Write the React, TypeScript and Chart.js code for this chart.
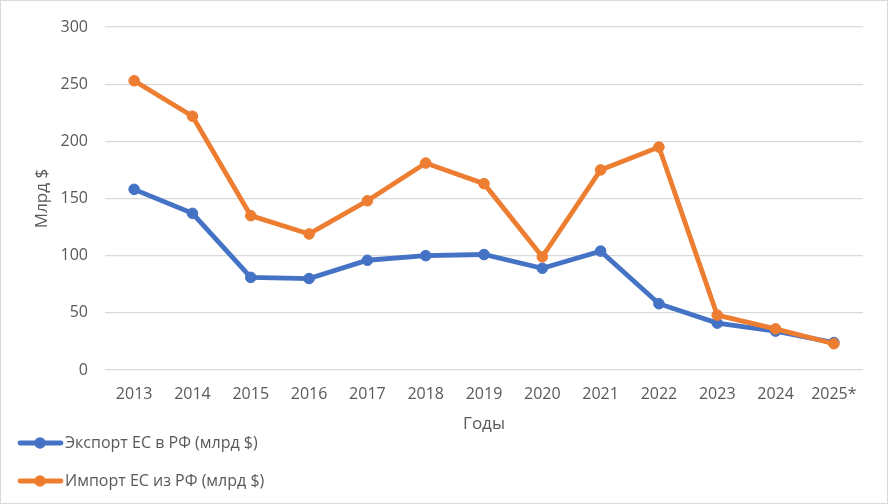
import React, { useEffect, useRef } from "react";
import { Chart, registerables } from "chart.js";

Chart.register(...registerables);

const years = ["2013", "2014", "2015", "2016", "2017", "2018", "2019", "2020", "2021", "2022", "2023", "2024", "2025*"];
const exportEU = [158, 137, 81, 80, 96, 100, 101, 89, 104, 58, 41, 34, 24];
const importEU = [253, 222, 135, 119, 148, 181, 163, 99, 175, 195, 48, 36, 23];
const seriesLabels = ["Экспорт ЕС в РФ (млрд $)", "Импорт ЕС из РФ (млрд $)"];
const axisTitles = { x: "Годы", y: "Млрд $" };
const yMin = 0;
const yMax = 300;
const yStep = 50;

const BLUE = "#4472C4";
const ORANGE = "#ED7D31";
const TEXT = "#595959";
const GRID = "#D9D9D9";
const FONT = "'Open Sans', 'DejaVu Sans', sans-serif";

const frameAndLegend = {
  id: "frameAndLegend",
  beforeDraw(chart: any) {
    const ctx = chart.ctx;
    ctx.save();
    ctx.fillStyle = "#ffffff";
    ctx.fillRect(0, 0, chart.width, chart.height);
    ctx.restore();
  },
  afterDraw(chart: any) {
    const ctx = chart.ctx;
    ctx.save();
    ctx.strokeStyle = GRID;
    ctx.lineWidth = 1;
    ctx.strokeRect(0.5, 0.5, chart.width - 1, chart.height - 1);
    const rows = [chart.height - 61, chart.height - 23];
    chart.data.datasets.forEach((ds: any, i: number) => {
      const y = rows[i];
      ctx.strokeStyle = ds.borderColor;
      ctx.lineWidth = 4.8;
      ctx.lineCap = "round";
      ctx.beginPath();
      ctx.moveTo(20, y);
      ctx.lineTo(61, y);
      ctx.stroke();
      ctx.fillStyle = ds.borderColor;
      ctx.beginPath();
      ctx.arc(40, y, 5.8, 0, Math.PI * 2);
      ctx.fill();
      ctx.fillStyle = TEXT;
      ctx.font = `16px ${FONT}`;
      ctx.textBaseline = "middle";
      ctx.textAlign = "left";
      ctx.fillText(ds.label, 65, y);
    });
    ctx.restore();
  },
};

export default function App() {
  const ref = useRef<HTMLCanvasElement>(null);
  useEffect(() => {
    if (!ref.current) return;
    const chart = new Chart(ref.current, {
      type: "line",
      data: {
        labels: years,
        datasets: [
          {
            label: seriesLabels[0],
            data: exportEU,
            borderColor: BLUE,
            backgroundColor: BLUE,
            pointBackgroundColor: BLUE,
            pointBorderColor: BLUE,
            borderWidth: 4.8,
            pointRadius: 5.3,
            pointBorderWidth: 1,
            tension: 0,
            order: 2,
          },
          {
            label: seriesLabels[1],
            data: importEU,
            borderColor: ORANGE,
            backgroundColor: ORANGE,
            pointBackgroundColor: ORANGE,
            pointBorderColor: ORANGE,
            borderWidth: 4.8,
            pointRadius: 5.3,
            pointBorderWidth: 1,
            tension: 0,
            order: 1,
          },
        ],
      },
      options: {
        responsive: false,
        animation: false,
        layout: { padding: { left: 0, right: 25, top: 27, bottom: 70 } },
        plugins: {
          legend: { display: false },
          tooltip: { enabled: false },
        },
        scales: {
          x: {
            offset: true,
            grid: { display: false, drawTicks: false },
            border: { display: false },
            ticks: { color: TEXT, font: { family: FONT, size: 16 }, padding: 15, maxRotation: 0, autoSkip: false },
            title: { display: true, text: axisTitles.x, color: TEXT, font: { family: FONT, size: 17 }, padding: 0 },
            afterFit: (s: any) => {
              s.height = 64;
            },
          },
          y: {
            min: yMin,
            max: yMax,
            ticks: { stepSize: yStep, color: TEXT, font: { family: FONT, size: 16 }, padding: 17 },
            grid: { color: GRID, lineWidth: 1.3, drawTicks: false },
            border: { display: false },
            title: { display: true, text: axisTitles.y, color: TEXT, font: { family: FONT, size: 17 }, padding: { top: 32, bottom: 0 } },
            afterFit: (s: any) => {
              s.width = 105;
            },
          },
        },
      },
      plugins: [frameAndLegend],
    });
    return () => chart.destroy();
  }, []);
  return (
    <div style={{ position: "fixed", left: 0, top: 0, width: 888, height: 504 }}>
      <canvas ref={ref} width={888} height={504} />
    </div>
  );
}
